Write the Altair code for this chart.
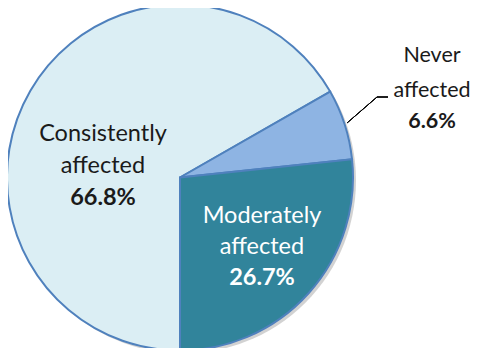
import math
import altair as alt
import pandas as pd

categories = ["Consistently affected", "Never affected", "Moderately affected"]
shares = [66.8, 6.6, 26.7]
order_idx = [0, 1, 2]
colors = ["#dbeef4", "#8eb4e3", "#31849b"]

df = pd.DataFrame({"category": categories, "share": shares, "order": order_idx})

CX, CY, R = 172, 169.5, 173

theta = alt.Theta("share:Q", stack=True, scale=alt.Scale(range=[math.pi, 3 * math.pi]))
color = alt.Color("category:N", scale=alt.Scale(domain=categories, range=colors), legend=None)

base = alt.Chart(df)

shadow = base.mark_arc(radius=R, color="#7f7f7f", opacity=0.35).encode(
    theta=theta, order=alt.Order("order:Q"),
    x=alt.value(CX + 3), y=alt.value(CY + 3),
)

pie = base.mark_arc(radius=R, stroke="#4f81bd", strokeWidth=2).encode(
    theta=theta, color=color, order=alt.Order("order:Q"),
    x=alt.value(CX), y=alt.value(CY),
)

FONT = "Lato"

def label(lines, x, ys, col, fs, bold_last=True):
    layers = []
    for i, (t, yy) in enumerate(zip(lines, ys)):
        w = "bold" if (bold_last and i == len(lines) - 1) else "normal"
        layers.append(
            alt.Chart(pd.DataFrame({"t": [t]})).mark_text(
                font=FONT, fontSize=fs, fontWeight=w, color=col, align="center", baseline="middle"
            ).encode(text="t:N", x=alt.value(x), y=alt.value(yy))
        )
    return layers

cons_lines = ["Consistently", "affected", f"{shares[0]}%"]
mod_lines = ["Moderately", "affected", f"{shares[2]}%"]
nev_lines = ["Never", "affected", f"{shares[1]}%"]

texts = []
texts += label(cons_lines, 95, [126, 158, 190], "#1a1a1a", 23.5)
texts += label(mod_lines, 254, [208, 239, 270], "#ffffff", 23.5)
texts += label(nev_lines, 424, [48, 83, 114], "#1a1a1a", 21.5)

leader1 = base.mark_rule(color="#000000", strokeWidth=1).encode(
    x=alt.value(339), y=alt.value(115), x2=alt.value(369), y2=alt.value(89)
)
leader2 = base.mark_rule(color="#000000", strokeWidth=1).encode(
    x=alt.value(369), y=alt.value(89), x2=alt.value(380), y2=alt.value(89)
)

chart = alt.layer(shadow, pie, leader1, leader2, *texts).properties(
    width=465, height=340, autosize=alt.AutoSizeParams(type="none"), padding=0
).configure_view(stroke=None)

chart.save("out.html", embed_options={"renderer": "svg", "actions": False})
